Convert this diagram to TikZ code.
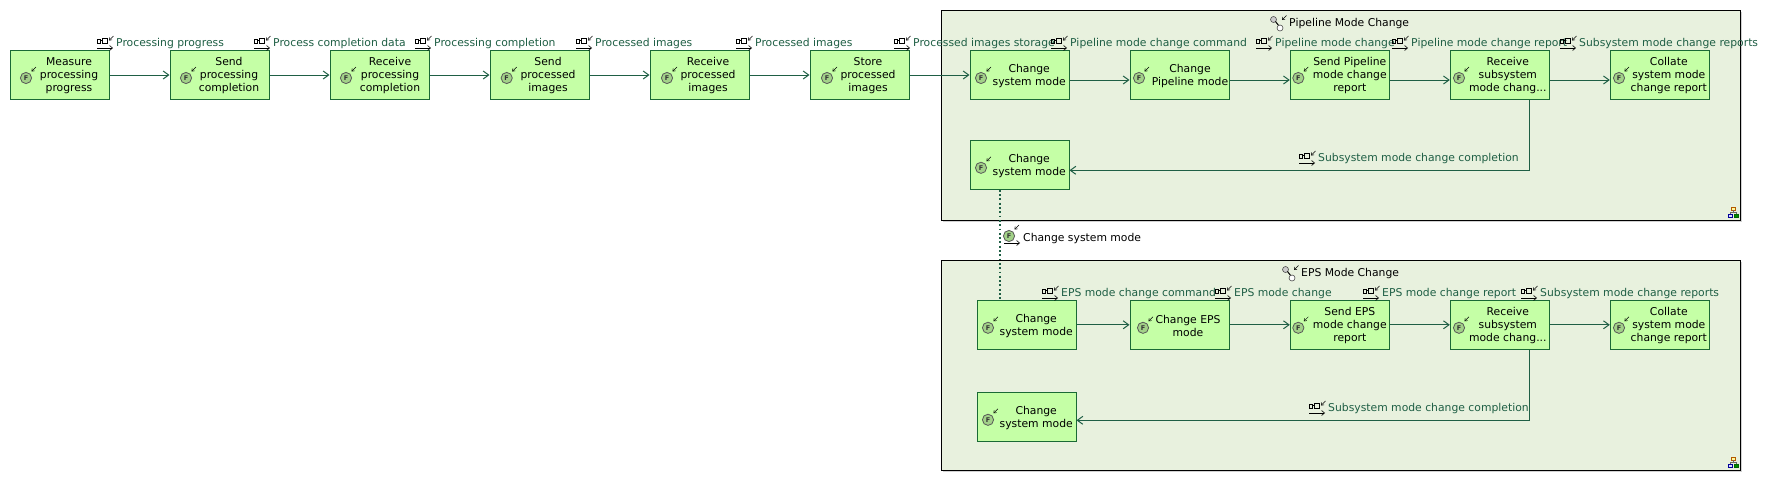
\documentclass[tikz,border=0pt]{standalone}
\usepackage{fontspec}
\setmainfont{DejaVu Sans}
\usetikzlibrary{arrows.meta}
\definecolor{fnfill}{HTML}{C5FFA6}
\definecolor{fnline}{HTML}{1A6A35}
\definecolor{lnk}{HTML}{1F5F45}
\definecolor{contfill}{HTML}{E8F1DE}
\tikzset{
  x=1pt,y=-1pt,
  fnbox/.style={draw=fnline,fill=fnfill,line width=1pt,minimum width=99pt,minimum height=49pt,inner sep=0pt},
  fntext/.style={align=center,font=\fontsize{10.8}{13}\selectfont,inner sep=0pt,text=black},
  cont/.style={draw=black,fill=contfill,line width=0.9pt,inner sep=0pt,anchor=north west},
  exlab/.style={anchor=base west,font=\fontsize{10.8}{13}\selectfont,inner sep=0pt,text=lnk},
  blacklab/.style={anchor=base west,font=\fontsize{10.8}{13}\selectfont,inner sep=0pt,text=black},
  flow/.style={draw=lnk,line width=1pt,-{Straight Barb[length=5.5pt,width=8pt,line width=1pt]}},
  corner/.style={draw=black,line width=0.5pt,-{Straight Barb[length=2.2pt,width=3.4pt,line width=0.5pt]}},
  fnicon/.pic={
    \draw[draw=black!65,fill=black!18!fnfill,line width=0.8pt] (0,0) circle (5.6);
    \node[inner sep=0pt,font=\fontsize{6.5}{7}\selectfont\bfseries,text=black!80] at (0,0) {F};
    \draw[corner] (10,-11) -- (5.5,-6.5);
  },
  exicon/.pic={
    \draw[black,line width=0.9pt] (0,1) rectangle (3.5,5) (3.5,2.8) -- (5.5,2.8) (5.5,0.8) rectangle (10,5.2);
    \draw[black,line width=0.6pt,-{Straight Barb[length=3pt,width=5pt,line width=0.6pt]}] (0,10) -- (16,10);
    \draw[corner] (16.5,-2) -- (12,2.5);
  },
  pathicon/.pic={
    \draw[draw=black!70,fill=black!20,line width=0.6pt] (3.5,3.5) circle (3);
    \draw[black,line width=1pt] (5.5,5.5) -- (9,10);
    \draw[draw=black!70,fill=white,line width=0.6pt] (10,12) circle (3);
    \draw[corner] (16.5,-0.5) -- (12,4);
  },
  treeicon/.pic={
    \draw[draw=orange!70!black,fill=yellow!40,line width=0.6pt] (3.5,0) rectangle (7,3);
    \draw[draw=black!60,line width=0.5pt] (5.2,3) -- (5.2,5) (1.8,7) -- (1.8,5) -- (8.5,5) -- (8.5,7);
    \draw[draw=blue!60!black,fill=blue!15,line width=0.6pt] (0,7) rectangle (4,10.5);
    \draw[draw=green!40!black,fill=green!55!black,line width=0.6pt] (6.5,7) rectangle (10.5,10.5);
  }
}
\newcommand{\fnb}[6]{%
  \node[fnbox] (#1) at (#2+49.5,#3+24.5) {};
  \pic at (#2+#4,#3+27.5) {fnicon};
  \node[fntext] (#1t) at (#2+#5,#3+25.5) {#6};
}
\newcommand{\xlab}[4]{% name, icon x, icon top y, text
  \pic at (#2,#3) {exicon};
  \node[exlab] (#1) at (#2+19,#3+8.2) {#4};
}
\begin{document}
\begin{tikzpicture}
\useasboundingbox (0,0) rectangle (1772,483);
\fill[white] (0,0) rectangle (1772,483);
% containers
\fill[black!18] (942.5,12) rectangle (1742,222);
\fill[black!18] (942.5,262) rectangle (1742,472);
\node[cont,minimum width=799.5pt,minimum height=210pt] (pipe) at (940.5,10) {};
\node[cont,minimum width=799.5pt,minimum height=210pt] (eps) at (940.5,260) {};
\pic at (1270,16) {pathicon};
\node[blacklab] (pipet) at (1289,26) {Pipeline Mode Change};
\pic at (1282,266) {pathicon};
\node[blacklab] (epst) at (1301,276) {EPS Mode Change};
\pic at (1728,207) {treeicon};
\pic at (1728,457) {treeicon};
% row 1
\fnb{a1}{10}{50.5}{16}{59}{Measure\\processing\\progress}
\fnb{a2}{170}{50.5}{16}{59}{Send\\processing\\completion}
\fnb{a3}{330}{50.5}{16}{60}{Receive\\processing\\completion}
\fnb{a4}{490}{50.5}{16.7}{58}{Send\\processed\\images}
\fnb{a5}{650}{50.5}{17}{58}{Receive\\processed\\images}
\fnb{a6}{810}{50.5}{17}{58}{Store\\processed\\images}
% pipeline
\fnb{p1}{970}{50.5}{11}{59.2}{Change\\system mode}
\fnb{p2}{1130}{50.5}{9}{60}{Change\\Pipeline mode}
\fnb{p3}{1290.3}{50.5}{8}{59.5}{Send Pipeline\\mode change\\report}
\fnb{p4}{1450.3}{50.5}{8.7}{57.5}{Receive\\subsystem\\mode chang...}
\fnb{p5}{1610.3}{50.5}{8.7}{58.5}{Collate\\system mode\\change report}
\fnb{p6}{970}{140.3}{11}{59.2}{Change\\system mode}
% eps
\fnb{e1}{977}{300.3}{11}{59.2}{Change\\system mode}
\fnb{e2}{1130}{300.3}{13}{58}{Change EPS\\mode}
\fnb{e3}{1290.3}{300.3}{8}{59.5}{Send EPS\\mode change\\report}
\fnb{e4}{1450.3}{300.3}{8.7}{57.5}{Receive\\subsystem\\mode chang...}
\fnb{e5}{1610.3}{300.3}{8.7}{58.5}{Collate\\system mode\\change report}
\fnb{e6}{977}{392.3}{11}{59.2}{Change\\system mode}
% connectors
\draw[flow] (a1) -- (a2);
\draw[flow] (a2) -- (a3);
\draw[flow] (a3) -- (a4);
\draw[flow] (a4) -- (a5);
\draw[flow] (a5) -- (a6);
\draw[flow] (a6) -- (a6 -| p1.west);
\draw[flow] ([yshift=-5pt]p1.east) -- ([yshift=-5pt]p2.west);
\draw[flow] ([yshift=-5pt]p2.east) -- ([yshift=-5pt]p3.west);
\draw[flow] ([yshift=-5pt]p3.east) -- ([yshift=-5pt]p4.west);
\draw[flow] ([yshift=-5pt]p4.east) -- ([yshift=-5pt]p5.west);
\draw[flow] ([xshift=30pt]p4.south) |- ([yshift=-5.5pt]p6.east);
\draw[flow] (e1) -- (e2);
\draw[flow] (e2) -- (e3);
\draw[flow] (e3) -- (e4);
\draw[flow] (e4) -- (e5);
\draw[flow] ([xshift=30pt]e4.south) |- ([yshift=-3.5pt]e6.east);
\draw[draw=lnk,line width=1.8pt,dash pattern=on 1.8pt off 2.5pt] ([xshift=-19.5pt]p6.south) -- ([xshift=-26.5pt]e1.north);
% labels
\xlab{l1}{97}{38}{Processing progress}
\xlab{l2}{254}{38}{Process completion data}
\xlab{l3}{415}{38}{Processing completion}
\xlab{l4}{576}{38}{Processed images}
\xlab{l5}{736}{38}{Processed images}
\xlab{l6}{894}{38}{Processed images storage}
\xlab{l7}{1051}{38}{Pipeline mode change command}
\xlab{l8}{1256}{38}{Pipeline mode change}
\xlab{l9}{1392}{38}{Pipeline mode change report}
\xlab{l10}{1560}{38}{Subsystem mode change reports}
\xlab{l11}{1299}{153}{Subsystem mode change completion}
\xlab{m1}{1042}{288}{EPS mode change command}
\xlab{m2}{1215}{288}{EPS mode change}
\xlab{m3}{1363}{288}{EPS mode change report}
\xlab{m4}{1521}{288}{Subsystem mode change reports}
\xlab{m5}{1309}{403}{Subsystem mode change completion}
% functional chain label
\pic at (1009,236) {fnicon};
\draw[black,line width=0.6pt,-{Straight Barb[length=3pt,width=5pt,line width=0.6pt]}] (1004,243) -- (1020,243);
\node[blacklab] (chain) at (1023,241) {Change system mode};
\end{tikzpicture}
\end{document}
